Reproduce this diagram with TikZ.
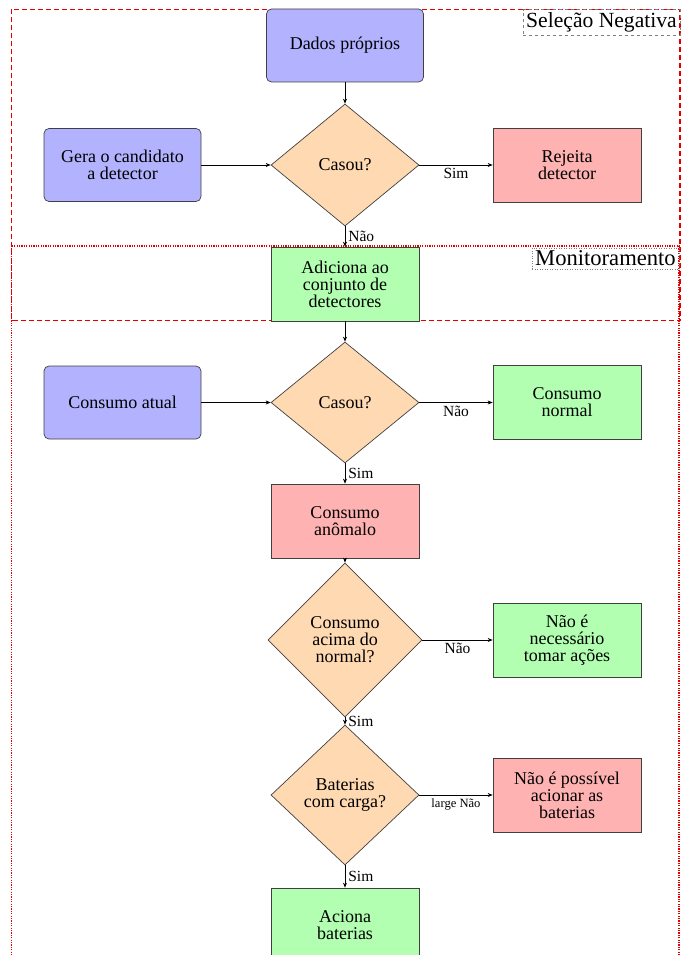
\documentclass[tikz,border=0pt]{standalone}
\usepackage{fontspec}
\setmainfont{Liberation Serif}
\usetikzlibrary{shapes.geometric,arrows.meta}
\begin{document}
\begin{tikzpicture}[x=1pt,y=-1pt,
  base/.style={draw=black!75, line width=0.7pt, align=center,
    font=\fontsize{18}{17}\selectfont, inner sep=2pt},
  startbox/.style={base, rectangle, rounded corners=5pt, fill=blue!30,
    minimum width=157pt, minimum height=73pt},
  goodbox/.style={base, rectangle, fill=green!30,
    minimum width=148pt, minimum height=74pt},
  badbox/.style={base, rectangle, fill=red!30,
    minimum width=148pt, minimum height=74pt},
  decision/.style={base, diamond, fill=orange!30, inner sep=0pt},
  flow/.style={-{Stealth[length=5pt,width=4pt]}, line width=0.7pt},
  edgelabel/.style={font=\fontsize{15.5}{16}\selectfont, inner sep=3pt},
  tinylabel/.style={font=\fontsize{12.6}{13}\selectfont, inner sep=3pt},
  phasebox/.style={red!90!black, line width=1.2pt},
  phasetag/.style={draw=black!50, line width=0.5pt, inner sep=3pt, anchor=north east}
]
\clip (0,0) rectangle (682,955);
\useasboundingbox (0,0) rectangle (682,955);

% phase frames and their titles
\draw[phasebox, dash pattern=on 5pt off 3pt] (11.5,9.5) rectangle (680,320.5);
\node[phasetag, dashed, font=\fontsize{21.6}{22}\selectfont] (selneg) at (680,9.5) {Seleção Negativa};
\draw[phasebox, dash pattern=on 1.2pt off 1.2pt] (11.5,246) rectangle (679,1000);
\node[phasetag, dotted, font=\fontsize{22.6}{23}\selectfont] (monit) at (679,247.5) {Monitoramento};

% negative selection
\node[startbox] (dados) at (345,45.5) {Dados próprios};
\node[decision, minimum width=148pt, minimum height=122pt] (casou1) at (345,165) {Casou?};
\node[startbox] (gera) at (122.5,165) {Gera o candidato\\a detector};
\node[badbox] (rejeita) at (567,165) {Rejeita\\detector};
\node[goodbox] (adiciona) at (345,284) {Adiciona ao\\conjunto de\\detectores};

% monitoring
\node[decision, minimum width=148pt, minimum height=121pt] (casou2) at (345,402.5) {Casou?};
\node[startbox] (atual) at (122.5,402.5) {Consumo atual};
\node[goodbox] (normal) at (567,402.5) {Consumo\\normal};
\node[badbox] (anomalo) at (345,521) {Consumo\\anômalo};
\node[decision, minimum width=154pt, minimum height=154pt] (acima) at (345,640) {Consumo\\acima do\\normal?};
\node[goodbox] (semacao) at (567,640) {Não é\\necessário\\tomar ações};
\node[decision, minimum width=148pt, minimum height=140pt] (carga) at (345,795) {Baterias\\com carga?};
\node[badbox] (semcarga) at (567,795) {Não é possível\\acionar as\\baterias};
\node[goodbox] (aciona) at (345,925) {Aciona\\baterias};

% connectors
\draw[flow] (dados) -- (casou1);
\draw[flow] (gera) -- (casou1);
\draw[flow] (casou1) -- node[edgelabel, below] {Sim} (rejeita);
\draw[flow] (casou1) -- node[edgelabel, right] {Não} (adiciona);
\draw[flow] (adiciona) -- (casou2);
\draw[flow] (atual) -- (casou2);
\draw[flow] (casou2) -- node[edgelabel, below] {Não} (normal);
\draw[flow] (casou2) -- node[edgelabel, right] {Sim} (anomalo);
\draw[flow] (anomalo) -- (acima);
\draw[flow] (acima) -- node[edgelabel, below] {Não} (semacao);
\draw[flow] (acima) -- node[edgelabel, right] {Sim} (carga);
\draw[flow] (carga) -- node[tinylabel, below] {large Não} (semcarga);
\draw[flow] (carga) -- node[edgelabel, right] {Sim} (aciona);
\end{tikzpicture}
\end{document}
